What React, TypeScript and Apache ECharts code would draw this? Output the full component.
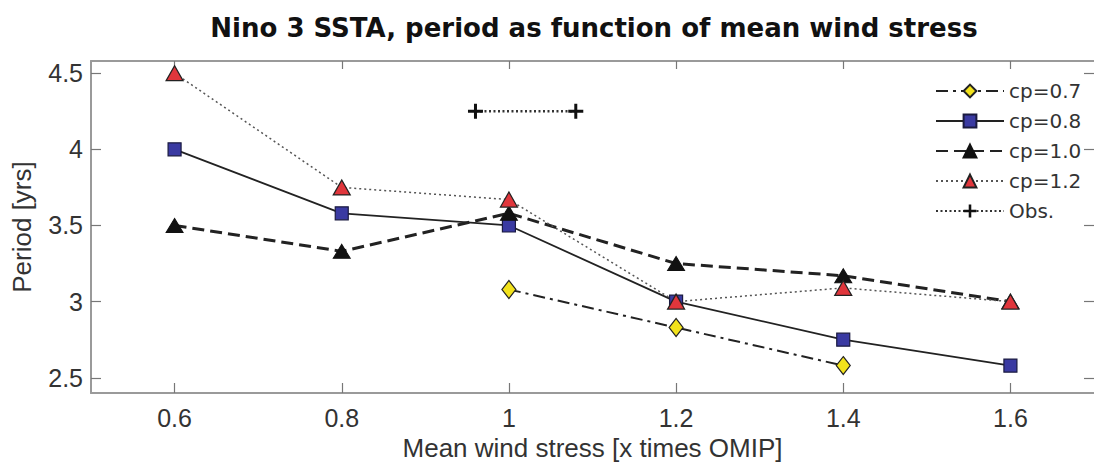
import React, { useEffect, useRef } from "react";
import * as echarts from "echarts";

// Mean wind stress (x times OMIP)
const windStress = [0.6, 0.8, 1.0, 1.2, 1.4, 1.6];
const cp07Stress = [1.0, 1.2, 1.4];

// Period of Nino 3 SSTA [yrs] for each coupling parameter
const cp07 = [3.08, 2.83, 2.58];
const cp08 = [4.0, 3.58, 3.5, 3.0, 2.75, 2.58];
const cp10 = [3.5, 3.33, 3.58, 3.25, 3.17, 3.0];
const cp12 = [4.5, 3.75, 3.67, 3.0, 3.09, 3.0];

// Observed period and wind-stress range
const obsStress = [0.96, 1.08];
const obsPeriod = [4.25, 4.25];

const xTicks = [0.6, 0.8, 1.0, 1.2, 1.4, 1.6];
const yTicks = [2.5, 3.0, 3.5, 4.0, 4.5];

const pair = (xs: number[], ys: number[]) => xs.map((x, i) => [x, ys[i]]);

const PLUS = "path://M4,0h2v4h4v2h-4v4h-2v-4h-4v-2h4z";
const SANS = "'Liberation Sans', Arial, sans-serif";
const LEGEND_FONT = "'DejaVu Sans', sans-serif";

export default function App() {
  const ref = useRef<HTMLDivElement>(null);

  useEffect(() => {
    if (!ref.current) return;
    const chart = echarts.init(ref.current, undefined, { renderer: "svg" });

    const axisLine = { show: true, lineStyle: { color: "#9a9a9a", width: 2 } };
    const tickStyle = { lineStyle: { color: "#777", width: 1.2 } };

    chart.setOption({
      animation: false,
      backgroundColor: "#fff",
      graphic: [
        {
          type: "text",
          x: 594,
          y: 28,
          style: {
            text: "Nino 3 SSTA, period as function of mean wind stress",
            font: `bold 26px ${LEGEND_FONT}`,
            fill: "#111",
            textAlign: "center",
            textVerticalAlign: "middle",
          },
        },
      ],
      grid: { left: 91, top: 61, width: 1007, height: 332, containLabel: false },
      legend: {
        orient: "vertical",
        left: 930,
        top: 76,
        itemWidth: 68,
        itemHeight: 16,
        itemGap: 10,
        textStyle: { fontFamily: LEGEND_FONT, fontSize: 20, color: "#333" },
        data: ["cp=0.7", "cp=0.8", "cp=1.0", "cp=1.2", "Obs."],
      },
      xAxis: [
        {
          type: "value",
          min: 0.5,
          max: 1.7,
          position: "bottom",
          name: "Mean wind stress [x times OMIP]",
          nameLocation: "middle",
          nameGap: 42,
          nameTextStyle: { fontFamily: SANS, fontSize: 26, color: "#333" },
          axisLine,
          axisTick: { show: true, inside: true, length: 10, customValues: xTicks, ...tickStyle },
          axisLabel: {
            customValues: xTicks,
            margin: 12,
            fontFamily: SANS,
            fontSize: 25,
            color: "#333",
          },
          splitLine: { show: false },
        },
        {
          type: "value",
          min: 0.5,
          max: 1.7,
          position: "top",
          axisLine,
          axisTick: { show: true, inside: true, length: 8, customValues: xTicks, ...tickStyle },
          axisLabel: { show: false },
          splitLine: { show: false },
        },
      ],
      yAxis: [
        {
          type: "value",
          min: 2.4,
          max: 4.58,
          position: "left",
          name: "Period [yrs]",
          nameLocation: "middle",
          nameGap: 56,
          nameTextStyle: { fontFamily: SANS, fontSize: 26, color: "#333" },
          axisLine,
          axisTick: { show: true, inside: true, length: 10, customValues: yTicks, ...tickStyle },
          axisLabel: {
            customValues: yTicks,
            margin: 8,
            fontFamily: SANS,
            fontSize: 25,
            color: "#333",
          },
          splitLine: { show: false },
        },
        {
          type: "value",
          min: 2.4,
          max: 4.58,
          position: "right",
          axisLine: { show: false },
          axisTick: { show: true, inside: true, length: 10, customValues: yTicks, ...tickStyle },
          axisLabel: { show: false },
          splitLine: { show: false },
        },
      ],
      series: [
        {
          name: "cp=0.7",
          type: "line",
          data: pair(cp07Stress, cp07),
          symbol: "diamond",
          symbolSize: [14, 18],
          itemStyle: { color: "#f2e21c", borderColor: "#222", borderWidth: 1.2 },
          lineStyle: { color: "#222", width: 2, type: [12, 5, 3, 5] },
        },
        {
          name: "cp=0.8",
          type: "line",
          data: pair(windStress, cp08),
          symbol: "rect",
          symbolSize: 13,
          itemStyle: { color: "#3a3aa2", borderColor: "#1a1a40", borderWidth: 1.2 },
          lineStyle: { color: "#222", width: 1.8, type: "solid" },
        },
        {
          name: "cp=1.0",
          type: "line",
          data: pair(windStress, cp10),
          symbol: "triangle",
          symbolSize: [17, 14],
          itemStyle: { color: "#111", borderColor: "#111", borderWidth: 1 },
          lineStyle: { color: "#222", width: 3, type: [12, 6] },
        },
        {
          name: "cp=1.2",
          type: "line",
          data: pair(windStress, cp12),
          symbol: "triangle",
          symbolSize: [17, 15],
          itemStyle: { color: "#e0363c", borderColor: "#222", borderWidth: 1.2 },
          lineStyle: { color: "#555", width: 1.5, type: [2, 3] },
        },
        {
          name: "Obs.",
          type: "line",
          data: pair(obsStress, obsPeriod),
          symbol: PLUS,
          symbolSize: 15,
          itemStyle: { color: "#111" },
          lineStyle: { color: "#333", width: 2.4, type: [2, 2.5] },
        },
      ],
    });

    return () => chart.dispose();
  }, []);

  return <div ref={ref} style={{ width: 1094, height: 466, position: "absolute", left: 0, top: 0 }} />;
}
